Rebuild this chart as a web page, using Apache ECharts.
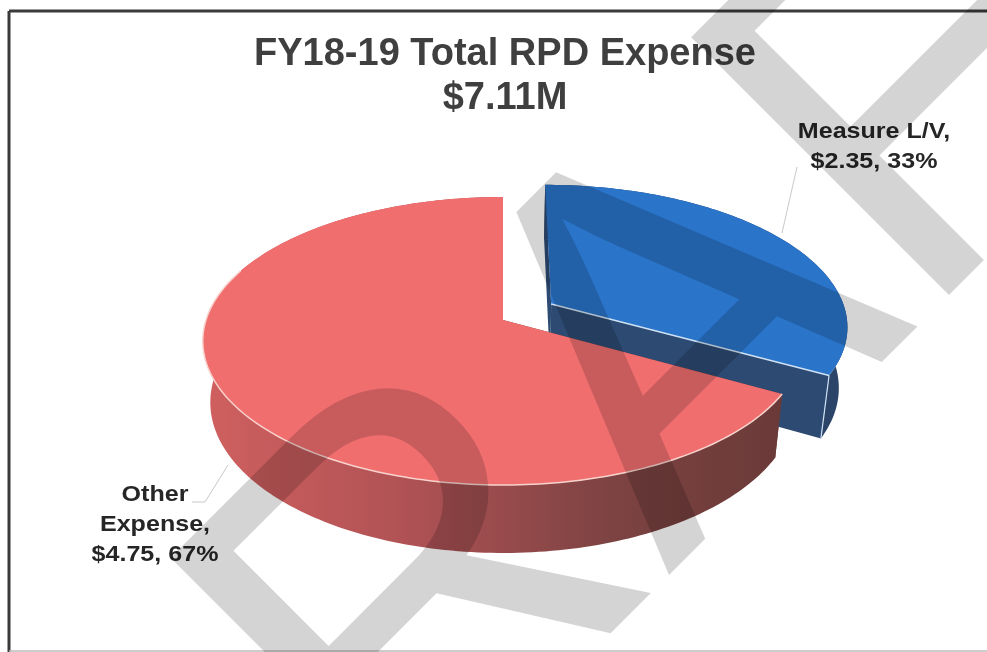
<!DOCTYPE html>
<html><head><meta charset="utf-8">
<style>html,body{margin:0;padding:0;background:#fff}#c{width:987px;height:652px}</style>
<script src="https://cdn.jsdelivr.net/npm/echarts@6/dist/echarts.min.js"></script>
</head><body><div id="c"></div>
<script>
const categories = ["Measure L/V", "Other Expense"];
const values = [2.35, 4.75];
const titleLines = ["FY18-19 Total RPD Expense", "$7.11M"];
const labelLines = [["Measure L/V,", "$2.35, 33%"], ["Other", "Expense,", "$4.75, 67%"]];

const FONT = '"Liberation Sans", Arial, sans-serif';
const total = values.reduce((a, b) => a + b, 0);

// Tilted-circle projection: unit-circle (u, v) -> screen
const P = {cx: 503, pole: 320, a: -94.3, c: 0.1458, d: 297};
function project(u, v) {
  const w = 1 + P.c * v;
  return [P.cx + P.d * u / w, (P.a * v + P.pole) / w];
}
function lower(p) {
  return [P.cx + (p[0] - P.cx) * 0.975, p[1] + 63 + (p[1] - 377) * 0.046];
}
const styles = [
  {top: '#2a74c9', rim: '#cfe2f5', offset: [0.165, 0.115],
   side: {type:'linear',x:0,y:0,x2:1,y2:0,colorStops:[{offset:0,color:'#2f4a70'},{offset:1,color:'#2b4468'}]},
   face: '#2d4a72'},
  {top: '#f16e6f', rim: '#f8d2cc', offset: [0, 0],
   side: {type:'linear',x:0,y:0,x2:1,y2:0,colorStops:[{offset:0,color:'#d0605f'},{offset:0.35,color:'#b05255'},{offset:0.7,color:'#7d4342'},{offset:1,color:'#6a3a38'}]},
   face: '#6a3a38'}
];
const labelPos = [
  {x: 874, y: 147, line: [[797,167],[782,233]]},
  {x: 155, y: 525, line: [[228,465],[205,502],[192,502]]}
];

function renderItem(params, api) {
  const i = params.dataIndex, st = styles[i];
  const before = values.slice(0, i).reduce((a, b) => a + b, 0);
  const t0 = before / total * Math.PI * 2, t1 = (before + api.value(1)) / total * Math.PI * 2;
  const [ou, ov] = st.offset;
  const pt = t => project(ou + Math.sin(t), ov + Math.cos(t));
  const arc = [];
  const n = Math.ceil((t1 - t0) / 0.02);
  for (let k = 0; k <= n; k++) arc.push(pt(t0 + (t1 - t0) * k / n));
  const apex = project(ou, ov);
  const arcLow = arc.map(lower).reverse();
  const kids = [];
  kids.push({type:'polygon', shape:{points:[apex, arc[0], lower(arc[0]), lower(apex)]}, style:{fill:st.face}});
  kids.push({type:'polygon', shape:{points:[apex, arc[n], lower(arc[n]), lower(apex)]}, style:{fill:st.face}});
  kids.push({type:'polygon', shape:{points:arc.concat(arcLow)}, style:{fill:st.side}});
  kids.push({type:'polygon', shape:{points:[apex].concat(arc)}, style:{fill:st.top}});
  if (i === 0) {
    kids.push({type:'polyline', shape:{points:[apex, arc[n]]}, style:{stroke:st.rim, lineWidth:1.5, fill:null}});
    kids.push({type:'polyline', shape:{points:[arc[n], lower(arc[n])]}, style:{stroke:st.rim, lineWidth:1.2, fill:null}});
  } else {
    const m = Math.round(n * 0.72);
    kids.push({type:'polyline', shape:{points:arc.slice(0, m)}, style:{stroke:st.rim, lineWidth:1.5, fill:null}});
  }
  const lp = labelPos[i];
  kids.push({type:'polyline', shape:{points:lp.line}, style:{stroke:'#c9c9c9', lineWidth:1, fill:null}});
  kids.push({type:'text', z2:10, x:lp.x, y:lp.y, scaleX:1.14, scaleY:1,
    style:{x:0, y:0, text:labelLines[i].join('\n'), fill:'#262626',
    font:'bold 22px ' + FONT, lineHeight:30, align:'center', verticalAlign:'middle'}});
  return {type:'group', children:kids};
}

const chart = echarts.init(document.getElementById('c'), null, {renderer:'canvas'});
chart.setOption({
  animation:false,
  backgroundColor:'#ffffff',
  title:{show:true, text:titleLines.join('\n'), left:500, top:28, textAlign:'center',
    textStyle:{fontFamily:FONT, fontWeight:'bold', fontSize:38, color:'#3f3f3f', lineHeight:44}},
  series:[{type:'custom', coordinateSystem:'none', silent:true, renderItem,
    data:values.map((v, i) => ({name:categories[i], value:[i, v]}))}],
  graphic:[
    {type:'line', z:50, shape:{x1:9, y1:11, x2:987, y2:11}, style:{stroke:'#3a3a3a', lineWidth:3}},
    {type:'line', z:50, shape:{x1:9, y1:11, x2:9, y2:652}, style:{stroke:'#3a3a3a', lineWidth:3}},
    {type:'line', z:50, shape:{x1:9, y1:651, x2:987, y2:651}, style:{stroke:'#bdbdbd', lineWidth:1.5}},
    {type:'text', z:60, silent:true, x:211, y:1201, rotation:45*Math.PI/180,
     style:{text:'DRAFT', fill:'rgba(0,0,0,0.17)', font:'530px "Liberation Sans", Arial, sans-serif',
       align:'left', verticalAlign:'bottom'}}
  ]
});
</script></body></html>
